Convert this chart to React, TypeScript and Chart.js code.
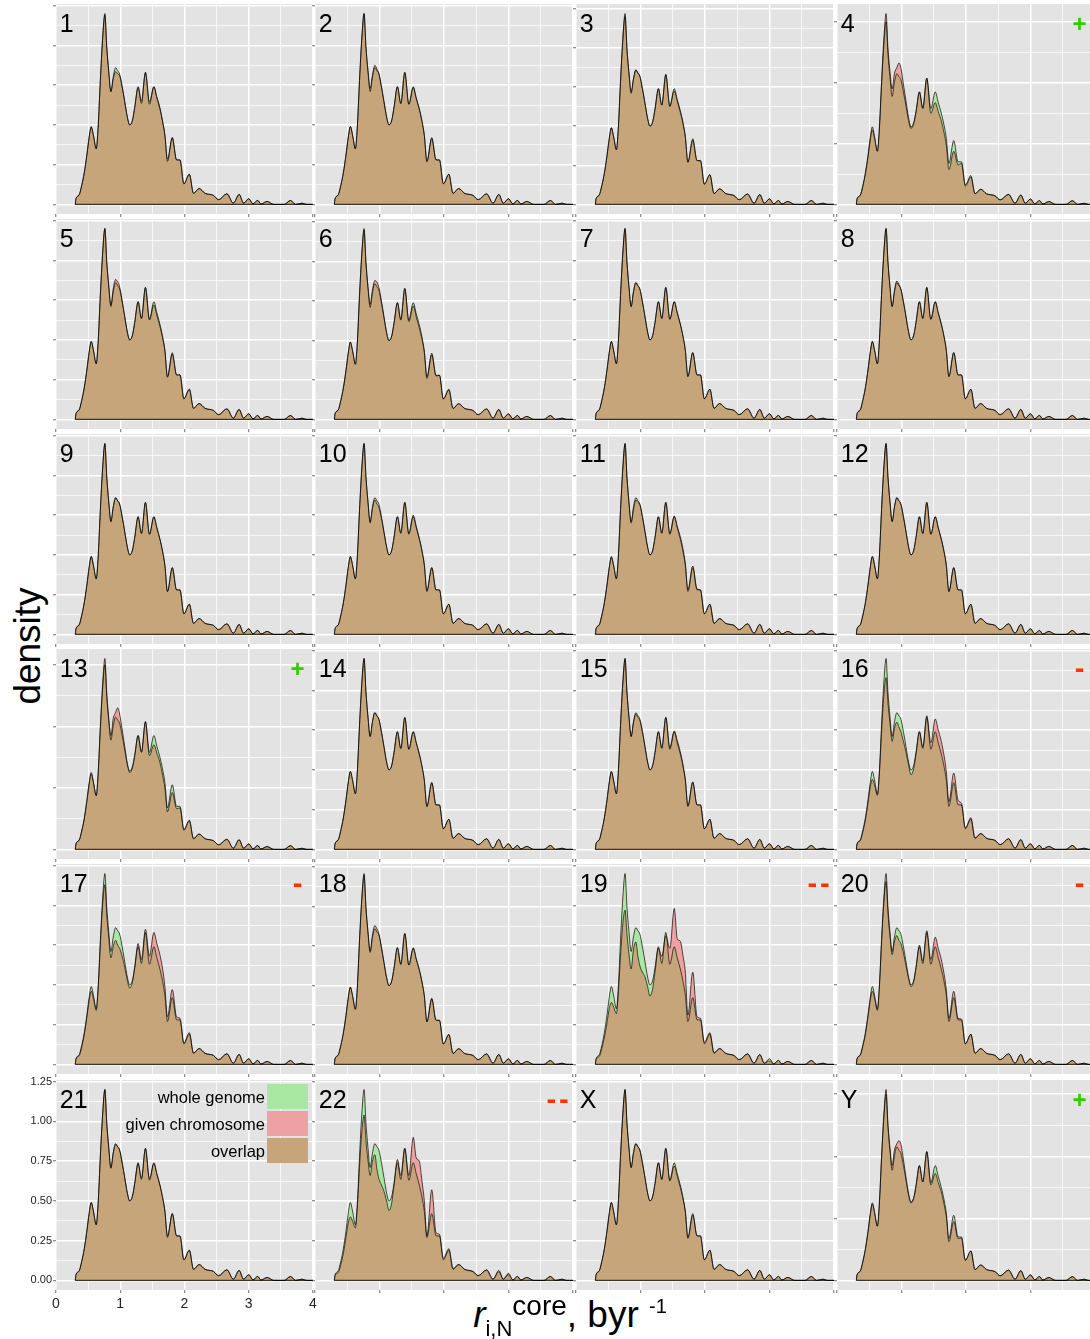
import React, { useEffect, useRef } from "react";
import { Chart, registerables } from "chart.js";

Chart.register(...registerables);

// ---------- data ----------
const X = [
  0.3, 0.31, 0.36, 0.4, 0.44, 0.48, 0.515, 0.548, 0.585, 0.626,
  0.655, 0.69, 0.725, 0.761, 0.79, 0.82, 0.855, 0.89, 0.928, 0.96,
  0.99, 1.03, 1.07, 1.11, 1.147, 1.19, 1.225, 1.278, 1.33, 1.392,
  1.455, 1.523, 1.57, 1.617, 1.66, 1.695, 1.735, 1.81, 1.877, 1.93,
  1.99, 2.076, 2.14, 2.227, 2.32, 2.45, 2.53, 2.66, 2.76, 2.85,
  2.92, 3.0, 3.066, 3.14, 3.19, 3.285, 3.39, 3.55, 3.65, 3.73,
  3.83, 3.9, 4.0,
];

const WHOLE_GENOME = [
  0, 0.035, 0.06, 0.12, 0.2, 0.31, 0.42, 0.49, 0.43, 0.35,
  0.48, 0.78, 1.04, 1.2, 0.99, 0.84, 0.71, 0.8, 0.86, 0.84,
  0.82, 0.74, 0.645, 0.55, 0.5, 0.53, 0.61, 0.74, 0.635, 0.83,
  0.63, 0.74, 0.67, 0.6, 0.52, 0.435, 0.27, 0.42, 0.28, 0.28,
  0.13, 0.19, 0.07, 0.1, 0.07, 0.057, 0.03, 0.067, 0.008, 0.063,
  0.008, 0.036, 0.004, 0.025, 0.003, 0.019, 0, 0, 0.025, 0,
  0.008, 0, 0,
];

const CHR_1 = [
  0, 0.035, 0.06, 0.12, 0.2, 0.31, 0.42, 0.485, 0.43, 0.35,
  0.48, 0.78, 1.04, 1.19, 0.99, 0.84, 0.71, 0.79, 0.835, 0.82,
  0.81, 0.74, 0.645, 0.55, 0.5, 0.53, 0.61, 0.735, 0.65, 0.83,
  0.645, 0.74, 0.675, 0.61, 0.52, 0.435, 0.285, 0.42, 0.28, 0.28,
  0.13, 0.19, 0.07, 0.1, 0.07, 0.057, 0.03, 0.067, 0.008, 0.063,
  0.008, 0.036, 0.004, 0.025, 0.003, 0.019, 0, 0, 0.025, 0,
  0.008, 0, 0,
];
const CHR_2 = [
  0, 0.035, 0.06, 0.12, 0.2, 0.31, 0.42, 0.49, 0.43, 0.35,
  0.48, 0.78, 1.04, 1.2, 0.99, 0.85, 0.73, 0.81, 0.875, 0.85,
  0.825, 0.74, 0.645, 0.55, 0.5, 0.53, 0.61, 0.74, 0.635, 0.83,
  0.63, 0.735, 0.665, 0.6, 0.52, 0.435, 0.27, 0.415, 0.28, 0.28,
  0.13, 0.19, 0.07, 0.1, 0.07, 0.057, 0.03, 0.067, 0.008, 0.063,
  0.008, 0.036, 0.004, 0.025, 0.003, 0.019, 0, 0, 0.025, 0,
  0.008, 0, 0,
];
const CHR_3 = [
  0, 0.035, 0.06, 0.12, 0.2, 0.31, 0.42, 0.49, 0.43, 0.35,
  0.48, 0.79, 1.06, 1.22, 1.0, 0.85, 0.72, 0.8, 0.86, 0.84,
  0.82, 0.74, 0.645, 0.55, 0.5, 0.53, 0.61, 0.74, 0.635, 0.83,
  0.625, 0.725, 0.66, 0.59, 0.515, 0.43, 0.27, 0.41, 0.28, 0.28,
  0.13, 0.19, 0.07, 0.1, 0.07, 0.057, 0.03, 0.067, 0.008, 0.063,
  0.008, 0.036, 0.004, 0.025, 0.003, 0.019, 0, 0, 0.025, 0,
  0.008, 0, 0,
];
const CHR_4 = [
  0, 0.035, 0.06, 0.12, 0.21, 0.32, 0.44, 0.51, 0.44, 0.35,
  0.49, 0.8, 1.08, 1.255, 1.03, 0.88, 0.76, 0.86, 0.9, 0.93,
  0.9, 0.79, 0.68, 0.57, 0.51, 0.54, 0.61, 0.74, 0.63, 0.83,
  0.6, 0.67, 0.61, 0.55, 0.47, 0.39, 0.23, 0.35, 0.26, 0.27,
  0.12, 0.18, 0.07, 0.1, 0.07, 0.057, 0.03, 0.065, 0.008, 0.06,
  0.008, 0.036, 0.004, 0.025, 0.003, 0.019, 0, 0, 0.025, 0,
  0.008, 0, 0,
];
const CHR_5 = [
  0, 0.035, 0.06, 0.12, 0.2, 0.31, 0.42, 0.49, 0.43, 0.35,
  0.48, 0.78, 1.04, 1.2, 0.99, 0.85, 0.72, 0.82, 0.88, 0.865,
  0.835, 0.745, 0.645, 0.55, 0.5, 0.53, 0.61, 0.74, 0.635, 0.83,
  0.625, 0.72, 0.655, 0.585, 0.51, 0.43, 0.265, 0.41, 0.28, 0.28,
  0.13, 0.19, 0.07, 0.1, 0.07, 0.057, 0.03, 0.067, 0.008, 0.063,
  0.008, 0.036, 0.004, 0.025, 0.003, 0.019, 0, 0, 0.025, 0,
  0.008, 0, 0,
];
const CHR_6 = [
  0, 0.035, 0.06, 0.12, 0.2, 0.31, 0.42, 0.49, 0.43, 0.35,
  0.48, 0.79, 1.05, 1.21, 1.0, 0.85, 0.73, 0.82, 0.88, 0.87,
  0.84, 0.75, 0.65, 0.55, 0.5, 0.53, 0.61, 0.74, 0.63, 0.83,
  0.62, 0.72, 0.65, 0.58, 0.505, 0.425, 0.26, 0.41, 0.275, 0.28,
  0.13, 0.19, 0.07, 0.1, 0.07, 0.057, 0.03, 0.067, 0.008, 0.063,
  0.008, 0.036, 0.004, 0.025, 0.003, 0.019, 0, 0, 0.025, 0,
  0.008, 0, 0,
];
const CHR_7 = WHOLE_GENOME;
const CHR_8 = [
  0, 0.035, 0.06, 0.12, 0.2, 0.31, 0.42, 0.49, 0.43, 0.35,
  0.48, 0.78, 1.04, 1.2, 0.99, 0.84, 0.71, 0.81, 0.87, 0.85,
  0.82, 0.74, 0.645, 0.55, 0.5, 0.53, 0.61, 0.74, 0.635, 0.83,
  0.63, 0.74, 0.67, 0.6, 0.52, 0.435, 0.27, 0.42, 0.28, 0.28,
  0.13, 0.19, 0.07, 0.1, 0.07, 0.057, 0.03, 0.067, 0.008, 0.063,
  0.008, 0.036, 0.004, 0.025, 0.003, 0.019, 0, 0, 0.025, 0,
  0.008, 0, 0,
];
const CHR_9 = WHOLE_GENOME;
const CHR_10 = [
  0, 0.035, 0.06, 0.12, 0.2, 0.31, 0.42, 0.49, 0.43, 0.35,
  0.48, 0.78, 1.04, 1.2, 0.99, 0.84, 0.7, 0.79, 0.845, 0.82,
  0.8, 0.73, 0.64, 0.55, 0.5, 0.53, 0.61, 0.74, 0.64, 0.83,
  0.635, 0.75, 0.68, 0.605, 0.525, 0.44, 0.275, 0.42, 0.28, 0.28,
  0.13, 0.19, 0.07, 0.1, 0.07, 0.057, 0.03, 0.067, 0.008, 0.063,
  0.008, 0.036, 0.004, 0.025, 0.003, 0.019, 0, 0, 0.025, 0,
  0.008, 0, 0,
];
const CHR_11 = [
  0, 0.035, 0.06, 0.12, 0.2, 0.31, 0.42, 0.485, 0.43, 0.35,
  0.48, 0.78, 1.04, 1.2, 0.99, 0.83, 0.7, 0.78, 0.845, 0.83,
  0.815, 0.74, 0.645, 0.55, 0.5, 0.53, 0.61, 0.74, 0.64, 0.83,
  0.635, 0.745, 0.68, 0.615, 0.535, 0.445, 0.28, 0.43, 0.285, 0.28,
  0.13, 0.19, 0.07, 0.1, 0.07, 0.057, 0.03, 0.067, 0.008, 0.063,
  0.008, 0.036, 0.004, 0.025, 0.003, 0.019, 0, 0, 0.025, 0,
  0.008, 0, 0,
];
const CHR_12 = WHOLE_GENOME;
const CHR_13 = [
  0, 0.035, 0.06, 0.12, 0.2, 0.32, 0.43, 0.5, 0.43, 0.35,
  0.49, 0.8, 1.07, 1.24, 1.02, 0.86, 0.74, 0.85, 0.89, 0.92,
  0.88, 0.78, 0.67, 0.56, 0.51, 0.54, 0.61, 0.74, 0.63, 0.83,
  0.61, 0.68, 0.625, 0.565, 0.48, 0.4, 0.245, 0.37, 0.265, 0.27,
  0.125, 0.185, 0.07, 0.1, 0.07, 0.057, 0.03, 0.065, 0.008, 0.063,
  0.008, 0.036, 0.004, 0.025, 0.003, 0.019, 0, 0, 0.025, 0,
  0.008, 0, 0,
];
const CHR_14 = WHOLE_GENOME;
const CHR_15 = [
  0, 0.035, 0.06, 0.12, 0.2, 0.31, 0.42, 0.49, 0.43, 0.35,
  0.48, 0.78, 1.04, 1.2, 0.99, 0.84, 0.71, 0.795, 0.85, 0.83,
  0.81, 0.74, 0.645, 0.55, 0.5, 0.53, 0.61, 0.74, 0.64, 0.83,
  0.64, 0.745, 0.685, 0.615, 0.53, 0.44, 0.275, 0.425, 0.28, 0.28,
  0.13, 0.19, 0.07, 0.1, 0.07, 0.057, 0.03, 0.067, 0.008, 0.063,
  0.008, 0.036, 0.004, 0.025, 0.003, 0.019, 0, 0, 0.025, 0,
  0.008, 0, 0,
];
const CHR_16 = [
  0, 0.033, 0.055, 0.11, 0.185, 0.29, 0.39, 0.44, 0.4, 0.34,
  0.46, 0.73, 0.96, 1.08, 0.92, 0.8, 0.68, 0.76, 0.8, 0.77,
  0.74, 0.68, 0.61, 0.53, 0.47, 0.51, 0.6, 0.74, 0.645, 0.84,
  0.67, 0.82, 0.75, 0.68, 0.59, 0.49, 0.3, 0.48, 0.31, 0.29,
  0.135, 0.2, 0.072, 0.1, 0.07, 0.057, 0.03, 0.067, 0.008, 0.06,
  0.008, 0.036, 0.004, 0.025, 0.003, 0.019, 0, 0, 0.025, 0,
  0.008, 0, 0,
];
const CHR_17 = [
  0, 0.033, 0.055, 0.11, 0.19, 0.295, 0.4, 0.46, 0.41, 0.34,
  0.47, 0.75, 1.0, 1.13, 0.94, 0.8, 0.67, 0.74, 0.78, 0.75,
  0.73, 0.68, 0.61, 0.53, 0.48, 0.52, 0.61, 0.76, 0.66, 0.85,
  0.68, 0.83, 0.76, 0.69, 0.6, 0.49, 0.3, 0.47, 0.3, 0.29,
  0.135, 0.2, 0.072, 0.1, 0.07, 0.057, 0.03, 0.067, 0.008, 0.063,
  0.008, 0.036, 0.004, 0.025, 0.003, 0.019, 0, 0, 0.025, 0,
  0.008, 0, 0,
];
const CHR_18 = [
  0, 0.035, 0.06, 0.12, 0.2, 0.31, 0.42, 0.49, 0.43, 0.35,
  0.48, 0.79, 1.05, 1.21, 1.0, 0.85, 0.72, 0.82, 0.88, 0.86,
  0.83, 0.745, 0.645, 0.55, 0.5, 0.53, 0.61, 0.74, 0.635, 0.83,
  0.63, 0.735, 0.665, 0.6, 0.52, 0.435, 0.27, 0.415, 0.28, 0.28,
  0.13, 0.19, 0.07, 0.1, 0.07, 0.057, 0.03, 0.067, 0.008, 0.063,
  0.008, 0.036, 0.004, 0.025, 0.003, 0.019, 0, 0, 0.025, 0,
  0.008, 0, 0,
];
const CHR_19 = [
  0, 0.03, 0.05, 0.1, 0.17, 0.26, 0.35, 0.39, 0.36, 0.32,
  0.44, 0.68, 0.88, 0.97, 0.82, 0.7, 0.6, 0.72, 0.77, 0.68,
  0.62, 0.58, 0.55, 0.49, 0.43, 0.48, 0.58, 0.73, 0.68, 0.81,
  0.73, 0.98, 0.79, 0.775, 0.68, 0.58, 0.31, 0.58, 0.3, 0.29,
  0.14, 0.2, 0.075, 0.1, 0.07, 0.055, 0.03, 0.065, 0.008, 0.06,
  0.008, 0.022, 0.004, 0.025, 0.003, 0.019, 0, 0, 0.025, 0,
  0.008, 0, 0,
];
const CHR_20 = [
  0, 0.034, 0.058, 0.115, 0.19, 0.3, 0.4, 0.46, 0.41, 0.34,
  0.47, 0.76, 1.01, 1.15, 0.95, 0.81, 0.69, 0.77, 0.81, 0.78,
  0.76, 0.7, 0.62, 0.54, 0.49, 0.52, 0.61, 0.75, 0.65, 0.84,
  0.66, 0.8, 0.73, 0.66, 0.57, 0.47, 0.29, 0.46, 0.29, 0.285,
  0.13, 0.19, 0.07, 0.1, 0.07, 0.057, 0.03, 0.067, 0.008, 0.063,
  0.008, 0.036, 0.004, 0.025, 0.003, 0.019, 0, 0, 0.025, 0,
  0.008, 0, 0,
];
const CHR_21 = [
  0, 0.035, 0.06, 0.12, 0.2, 0.31, 0.42, 0.49, 0.43, 0.35,
  0.48, 0.78, 1.04, 1.2, 0.99, 0.84, 0.705, 0.8, 0.855, 0.84,
  0.82, 0.74, 0.645, 0.55, 0.5, 0.53, 0.61, 0.735, 0.645, 0.83,
  0.64, 0.735, 0.67, 0.6, 0.52, 0.435, 0.28, 0.42, 0.28, 0.28,
  0.13, 0.19, 0.07, 0.1, 0.07, 0.057, 0.03, 0.067, 0.008, 0.063,
  0.008, 0.036, 0.004, 0.025, 0.003, 0.019, 0, 0, 0.025, 0,
  0.008, 0, 0,
];
const CHR_22 = [
  0, 0.03, 0.05, 0.1, 0.17, 0.27, 0.36, 0.4, 0.37, 0.33,
  0.45, 0.71, 0.93, 1.04, 0.88, 0.76, 0.66, 0.75, 0.79, 0.7,
  0.64, 0.6, 0.56, 0.5, 0.44, 0.49, 0.6, 0.76, 0.66, 0.83,
  0.66, 0.9, 0.77, 0.75, 0.62, 0.5, 0.28, 0.57, 0.3, 0.29,
  0.14, 0.2, 0.075, 0.1, 0.07, 0.055, 0.03, 0.065, 0.008, 0.055,
  0.008, 0.045, 0.004, 0.025, 0.003, 0.019, 0, 0, 0.025, 0,
  0.008, 0, 0,
];
const CHR_X = [
  0, 0.035, 0.06, 0.12, 0.2, 0.31, 0.42, 0.49, 0.43, 0.35,
  0.48, 0.78, 1.04, 1.2, 0.99, 0.84, 0.71, 0.8, 0.86, 0.84,
  0.82, 0.74, 0.645, 0.55, 0.5, 0.53, 0.61, 0.74, 0.635, 0.83,
  0.625, 0.72, 0.655, 0.585, 0.51, 0.43, 0.265, 0.41, 0.28, 0.28,
  0.13, 0.19, 0.07, 0.1, 0.07, 0.057, 0.03, 0.067, 0.008, 0.063,
  0.008, 0.036, 0.004, 0.025, 0.003, 0.019, 0, 0, 0.025, 0,
  0.008, 0, 0,
];
const CHR_Y = [
  0, 0.035, 0.06, 0.12, 0.205, 0.315, 0.43, 0.5, 0.435, 0.35,
  0.485, 0.79, 1.06, 1.23, 1.01, 0.86, 0.74, 0.84, 0.88, 0.9,
  0.88, 0.78, 0.665, 0.56, 0.505, 0.535, 0.61, 0.74, 0.635, 0.83,
  0.615, 0.69, 0.63, 0.57, 0.49, 0.41, 0.25, 0.38, 0.27, 0.275,
  0.13, 0.19, 0.07, 0.1, 0.07, 0.057, 0.03, 0.067, 0.008, 0.063,
  0.008, 0.036, 0.004, 0.025, 0.003, 0.019, 0, 0, 0.025, 0,
  0.008, 0, 0,
];

const CHROMOSOME = [
  CHR_1, CHR_2, CHR_3, CHR_4, CHR_5, CHR_6, CHR_7, CHR_8,
  CHR_9, CHR_10, CHR_11, CHR_12, CHR_13, CHR_14, CHR_15, CHR_16,
  CHR_17, CHR_18, CHR_19, CHR_20, CHR_21, CHR_22, CHR_X, CHR_Y,
];
const PANEL_NAMES = [
  "1", "2", "3", "4", "5", "6", "7", "8", "9", "10", "11", "12",
  "13", "14", "15", "16", "17", "18", "19", "20", "21", "22", "X", "Y",
];
const PANEL_MARKS = [
  "", "", "", "+", "", "", "", "", "", "", "", "",
  "+", "", "", "-", "-", "", "- -", "-", "", "- -", "", "+",
];
const X_BREAKS = [0, 1, 2, 3, 4];
const Y_BREAKS = [0, 0.25, 0.5, 0.75, 1, 1.25];
const Y_BREAKS_WIDE = [0, 0.4, 0.8, 1.2];
const LEGEND_LABELS = ["whole genome", "given chromosome", "overlap"];

// ---------- styles ----------
const FONT = '"Liberation Sans", Arial, Helvetica, sans-serif';
const PANEL_BG = "#E3E3E3";
const GREEN = "#A8E8A4";
const PINK = "#EDA1A2";
const TAN = "#C5A579";
const LINE = "rgba(0,0,0,0.72)";
const TICK = "rgba(60,60,60,0.75)";
const MARK_GREEN = "#33CC00";
const MARK_RED = "#FF3300";
const LEGEND_COLORS = [GREEN, PINK, TAN];

const COL_LEFT = [56, 315, 576, 837];
const COL_WIDTH = [257, 258, 258, 258];
const ROW_TOP = [4, 219, 434, 649, 864, 1080];
const ROW_HEIGHT = 210;
const AXIS_PANEL = 20;
const LABEL_Y_FRACTION = 0.94;
const LABEL_X = 0.06;
const MARK_X = 3.76;
const DASH_GAP = 12.5;

function near(list: number[], v: number) {
  return list.some((b) => Math.abs(b - v) < 1e-9);
}

function Panel({ index }: { index: number }) {
  const ref = useRef<HTMLCanvasElement | null>(null);
  const col = index % 4;
  const row = Math.floor(index / 4);
  const withAxes = index === AXIS_PANEL;
  const leftRoom = withAxes ? 56 : 4;
  const bottomRoom = withAxes ? 26 : 4;
  const pad = 10;
  const w = COL_WIDTH[col] + leftRoom + pad;
  const h = ROW_HEIGHT + pad + bottomRoom;

  useEffect(() => {
    const canvas = ref.current;
    if (!canvas) return;
    const chr = CHROMOSOME[index];
    const peak = Math.max(...WHOLE_GENOME, ...chr);
    const yMin = -0.05 * peak;
    const yMax = 1.05 * peak;
    const yMajors = peak > 1.22 ? Y_BREAKS_WIDE : Y_BREAKS;
    const yStep = yMajors[1] - yMajors[0];
    const yVals: number[] = [];
    yMajors.forEach((b) => {
      yVals.push(b);
      yVals.push(b + yStep / 2);
    });
    const yTicks = yVals.filter((v) => v >= yMin - 1e-9 && v <= yMax + 1e-9);
    const xVals: number[] = [];
    X_BREAKS.forEach((b, i) => {
      xVals.push(b);
      if (i < X_BREAKS.length - 1) xVals.push(b + 0.5);
    });

    const pts = (ys: number[]) => X.map((x, i) => ({ x, y: ys[i] }));
    const common = { pointRadius: 0, cubicInterpolationMode: "monotone" as const };

    const decor = {
      id: "panelDecor",
      beforeDraw(chart: any) {
        const { ctx, chartArea: a } = chart;
        ctx.save();
        ctx.fillStyle = PANEL_BG;
        ctx.fillRect(a.left, a.top, a.right - a.left, a.bottom - a.top);
        ctx.restore();
      },
      afterDatasetsDraw(chart: any) {
        const { ctx } = chart;
        const xs = chart.scales.x;
        const ys = chart.scales.y;
        const yp = ys.getPixelForValue(LABEL_Y_FRACTION * peak);
        ctx.save();
        ctx.fillStyle = "#000";
        ctx.font = `25px ${FONT}`;
        ctx.textAlign = "left";
        ctx.textBaseline = "middle";
        ctx.fillText(PANEL_NAMES[index], xs.getPixelForValue(LABEL_X), yp);
        const mark = PANEL_MARKS[index];
        if (mark) {
          const glyphs = mark.split(" ");
          const cx = xs.getPixelForValue(MARK_X);
          ctx.textAlign = "center";
          if (mark.startsWith("+")) {
            ctx.font = `bold 24px ${FONT}`;
            ctx.fillStyle = MARK_GREEN;
          } else {
            ctx.font = `bold 29px ${FONT}`;
            ctx.fillStyle = MARK_RED;
          }
          glyphs.forEach((g, k) => {
            const off = (k - (glyphs.length - 1) / 2) * DASH_GAP;
            ctx.fillText(g, cx + off, yp);
          });
        }
        ctx.restore();
      },
    };

    const chart = new Chart(canvas, {
      type: "line",
      data: {
        datasets: [
          {
            data: pts(chr),
            fill: { target: 1, above: PINK, below: GREEN },
            borderColor: "rgba(0,0,0,0)",
            borderWidth: 1,
            ...common,
          },
          {
            data: pts(WHOLE_GENOME),
            fill: "origin",
            backgroundColor: TAN,
            borderColor: LINE,
            borderWidth: 0.9,
            ...common,
          },
          {
            data: pts(chr),
            fill: "origin",
            backgroundColor: TAN,
            borderColor: LINE,
            borderWidth: 0.9,
            ...common,
          },
          {
            data: [
              { x: X[0], y: 0 },
              { x: X[X.length - 1], y: 0 },
            ],
            fill: false,
            borderColor: LINE,
            borderWidth: 1.3,
            pointRadius: 0,
          },
        ],
      } as any,
      options: {
        animation: false,
        responsive: false,
        devicePixelRatio: 1,
        events: [],
        layout: { padding: { top: pad, right: pad, left: 0, bottom: 0 } },
        plugins: {
          legend: { display: false },
          tooltip: { enabled: false },
          filler: { drawTime: "beforeDatasetsDraw", propagate: false },
        } as any,
        scales: {
          x: {
            type: "linear",
            min: 0,
            max: 4,
            afterBuildTicks: (s: any) => {
              s.ticks = xVals.map((v) => ({ value: v }));
            },
            afterFit: (s: any) => {
              s.height = bottomRoom;
            },
            border: { display: false },
            grid: {
              color: "#FFFFFF",
              lineWidth: (c: any) => (c.tick && near(X_BREAKS, c.tick.value) ? 1.5 : 0.7),
              tickColor: (c: any) =>
                c.tick && near(X_BREAKS, c.tick.value) ? TICK : "rgba(0,0,0,0)",
              tickLength: 3,
              tickWidth: 1,
              drawTicks: true,
            },
            ticks: {
              display: withAxes,
              autoSkip: false,
              maxRotation: 0,
              padding: 3,
              color: "#222",
              font: { size: 14, family: FONT },
              callback: (v: any) => (near(X_BREAKS, Number(v)) ? String(v) : ""),
            },
          },
          y: {
            type: "linear",
            min: yMin,
            max: yMax,
            afterBuildTicks: (s: any) => {
              s.ticks = yTicks.map((v) => ({ value: v }));
            },
            afterFit: (s: any) => {
              s.width = leftRoom;
            },
            border: { display: false },
            grid: {
              color: "#FFFFFF",
              lineWidth: (c: any) => (c.tick && near(yMajors, c.tick.value) ? 1.5 : 0.7),
              tickColor: (c: any) =>
                c.tick && near(yMajors, c.tick.value) ? TICK : "rgba(0,0,0,0)",
              tickLength: 3,
              tickWidth: 1,
              drawTicks: true,
            },
            ticks: {
              display: withAxes,
              autoSkip: false,
              padding: 1,
              color: "#222",
              font: { size: 11, family: FONT },
              callback: (v: any) => (near(yMajors, Number(v)) ? Number(v).toFixed(2) : ""),
            },
          },
        },
      } as any,
      plugins: [decor],
    });
    return () => chart.destroy();
  }, [index]);

  return (
    <canvas
      ref={ref}
      width={w}
      height={h}
      style={{
        position: "absolute",
        left: COL_LEFT[col] - leftRoom,
        top: ROW_TOP[row] - pad,
        width: w,
        height: h,
      }}
    />
  );
}

export default function App() {
  const legendTops = [1084, 1111, 1138];
  return (
    <div
      style={{
        position: "absolute",
        left: 0,
        top: 0,
        width: 1090,
        height: 1339,
        overflow: "hidden",
        background: "#FFFFFF",
        fontFamily: FONT,
      }}
    >
      {PANEL_NAMES.map((_, i) => (
        <Panel key={i} index={i} />
      ))}

      {LEGEND_LABELS.map((label, i) => (
        <React.Fragment key={label}>
          <div
            style={{
              position: "absolute",
              left: 65,
              width: 200,
              top: legendTops[i],
              height: 26,
              lineHeight: "26px",
              textAlign: "right",
              fontSize: 16.5,
              color: "#000",
              whiteSpace: "nowrap",
            }}
          >
            {label}
          </div>
          <div
            style={{
              position: "absolute",
              left: 267,
              width: 41,
              top: legendTops[i],
              height: 25,
              background: LEGEND_COLORS[i],
            }}
          />
        </React.Fragment>
      ))}

      <div
        style={{
          position: "absolute",
          left: 27,
          top: 646,
          transform: "translate(-50%, -50%) rotate(-90deg)",
          fontSize: 37,
          lineHeight: 1,
          whiteSpace: "nowrap",
          color: "#000",
        }}
      >
        density
      </div>

      <div
        style={{
          position: "absolute",
          left: 370,
          width: 400,
          top: 1296,
          textAlign: "center",
          fontSize: 37,
          lineHeight: "37px",
          whiteSpace: "nowrap",
          color: "#000",
        }}
      >
        <span style={{ fontStyle: "italic" }}>r</span>
        <span style={{ fontSize: 22, position: "relative", top: 9 }}>i,N</span>
        <span style={{ fontSize: 28, position: "relative", top: -12 }}>core</span>
        <span>, byr </span>
        <span style={{ fontSize: 20, position: "relative", top: -14 }}>-1</span>
      </div>
    </div>
  );
}
